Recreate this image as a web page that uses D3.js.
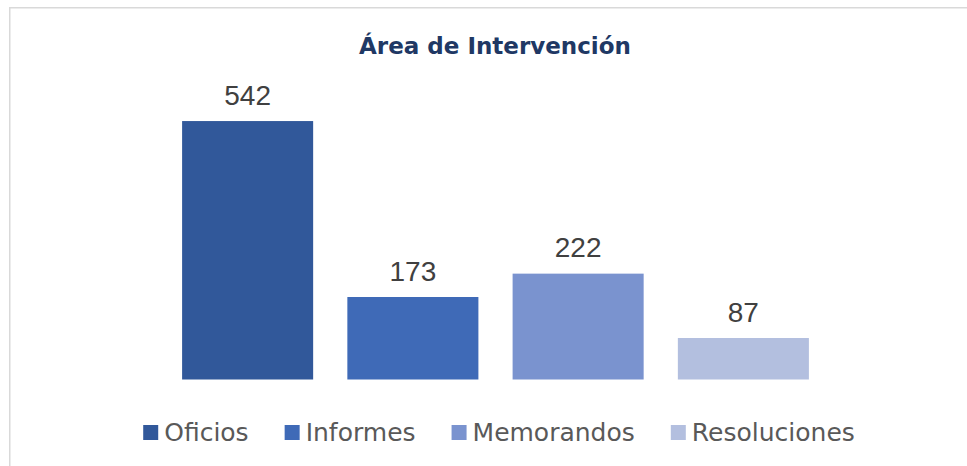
<!DOCTYPE html>
<html>
<head>
<meta charset="utf-8">
<script src="https://cdn.jsdelivr.net/npm/d3@7"></script>
<style>
  html, body { margin: 0; padding: 0; background: #fff; }
  svg { display: block; }
</style>
</head>
<body>
<svg id="chart" width="967" height="466"></svg>
<script>
const title = "Área de Intervención";
const categories = ["Oficios", "Informes", "Memorandos", "Resoluciones"];
const values = [542, 173, 222, 87];
const colors = ["#31589A", "#3F6AB7", "#7A93CF", "#B3BFDF"];

const svg = d3.select("#chart");
const W = 967, H = 466;

// chart area border (extends beyond right/bottom edge)
svg.append("rect")
  .attr("x", 9.75).attr("y", 7.75)
  .attr("width", W + 20).attr("height", H + 20)
  .attr("fill", "#fff")
  .attr("stroke", "#D9D9D9")
  .attr("stroke-width", 1.5);

svg.append("text")
  .attr("x", 495).attr("y", 54)
  .attr("text-anchor", "middle")
  .attr("font-family", "DejaVu Sans")
  .attr("font-weight", "bold")
  .attr("font-size", 23)
  .attr("fill", "#203864")
  .text(title);

const x = d3.scaleBand().domain(categories).range([165, 826]).paddingInner(0.207).paddingOuter(0.1035);
const y = d3.scaleLinear().domain([0, 600]).range([379.5, 93.4]);

const g = svg.append("g");
g.selectAll("rect.bar")
  .data(categories)
  .join("rect")
  .attr("class", "bar")
  .attr("x", d => x(d))
  .attr("width", x.bandwidth())
  .attr("y", (d, i) => y(values[i]))
  .attr("height", (d, i) => y(0) - y(values[i]))
  .attr("fill", (d, i) => colors[i]);

g.selectAll("text.lbl")
  .data(categories)
  .join("text")
  .attr("class", "lbl")
  .attr("x", d => x(d) + x.bandwidth() / 2)
  .attr("y", (d, i) => y(values[i]) - 16.5)
  .attr("text-anchor", "middle")
  .attr("font-family", "Liberation Sans")
  .attr("font-size", 28)
  .attr("fill", "#404040")
  .text((d, i) => values[i]);

// legend
const leg = svg.append("g");
const items = leg.selectAll("g.item").data(categories).join("g").attr("class", "item");
items.append("rect")
  .attr("y", 425).attr("width", 15).attr("height", 15)
  .attr("fill", (d, i) => colors[i]);
items.append("text")
  .attr("x", 21).attr("y", 441)
  .attr("font-family", "DejaVu Sans")
  .attr("font-size", 25)
  .attr("fill", "#595959")
  .text(d => d);
let cx = 0;
const widths = [];
items.each(function() {
  const tw = d3.select(this).select("text").node().getComputedTextLength();
  widths.push(21 + tw);
});
const gap = 36;
const total = d3.sum(widths) + gap * (widths.length - 1);
cx = 499 - total / 2;
items.attr("transform", (d, i) => {
  const t = `translate(${cx},0)`;
  cx += widths[i] + gap;
  return t;
});
</script>
</body>
</html>
